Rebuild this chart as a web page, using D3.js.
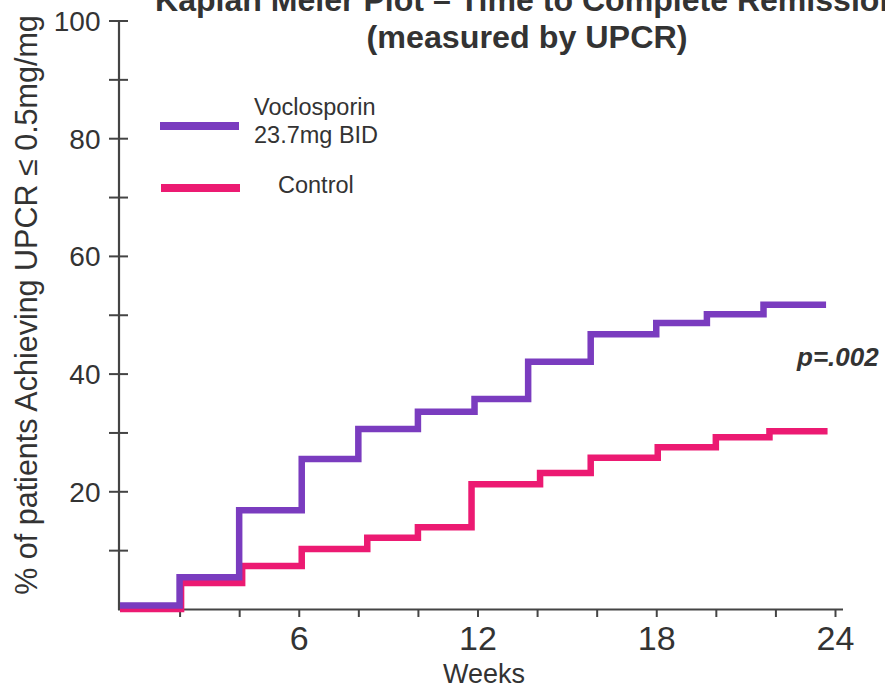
<!DOCTYPE html>
<html>
<head>
<meta charset="utf-8">
<script src="https://cdn.jsdelivr.net/npm/d3@7"></script>
<style>
  html, body { margin: 0; padding: 0; background: #fff; }
  svg { display: block; }
  text { font-family: "Liberation Sans", Arial, Helvetica, sans-serif; fill: #333; }
</style>
</head>
<body>
<svg id="chart" width="885" height="688"></svg>
<script>
// ---- Data ----
const titleLines = ["Kaplan Meier Plot – Time to Complete Remission", "(measured by UPCR)"];
const xLabel = "Weeks";
const yLabel = "% of patients Achieving UPCR ≤ 0.5mg/mg";
const xTickValues = [2, 4, 6, 8, 10, 12, 14, 16, 18, 20, 22, 24];
const xTickLabels = [6, 12, 18, 24];
const yTickValues = [10, 20, 30, 40, 50, 60, 70, 80, 90, 100];
const yTickLabels = [20, 40, 60, 80, 100];

const seriesNames = ["Voclosporin\n23.7mg BID", "Control"];
// step times (weeks) and the level reached at each time
const vocTimes  = [0, 2.0, 4.0, 6.1, 8.0, 10.0, 11.9, 13.7, 15.8, 18.0, 19.7, 21.6, 23.7];
const vocValues = [0.6, 5.4, 16.8, 25.5, 30.6, 33.5, 35.7, 42.0, 46.7, 48.6, 50.1, 51.7, 51.7];
const ctlTimes  = [0, 2.05, 4.1, 6.1, 8.3, 10.0, 11.8, 14.1, 15.8, 18.05, 20.0, 21.8, 23.75];
const ctlValues = [0, 4.4, 7.3, 10.2, 12.1, 13.9, 21.2, 23.1, 25.7, 27.5, 29.2, 30.2, 30.2];
const pValue = "p=.002";

const colors = ["#7a3cbf", "#ec1a72"];

// ---- Layout ----
const svg = d3.select("#chart");
const x = d3.scaleLinear().domain([0, 24]).range([120, 835]);
const y = d3.scaleLinear().domain([0, 100]).range([609, 20.5]);

// Title (clipped at top like the reference)
svg.append("text").attr("x", 527).attr("y", 11).attr("text-anchor", "middle")
  .attr("textLength", 744).attr("lengthAdjust", "spacingAndGlyphs")
  .style("font-weight", "bold").style("font-size", "31px").text(titleLines[0]);
svg.append("text").attr("x", 527).attr("y", 48).attr("text-anchor", "middle")
  .attr("textLength", 321).attr("lengthAdjust", "spacingAndGlyphs")
  .style("font-weight", "bold").style("font-size", "31px").text(titleLines[1]);

// X axis
const xAxis = d3.axisBottom(x).tickValues(xTickValues).tickSize(8).tickSizeOuter(0).tickFormat("");
const gx = svg.append("g").attr("transform", `translate(0,${y(0)})`).call(xAxis);
gx.select(".domain").attr("d", `M${x(0) - 2},0.5H843`).attr("stroke", "#444").attr("stroke-width", 2.2);
gx.selectAll(".tick line").attr("stroke", "#444").attr("stroke-width", 2);
gx.selectAll(".tick").filter(d => xTickLabels.includes(d)).append("text")
  .attr("y", 41).attr("text-anchor", "middle").style("font-size", "34px")
  .attr("fill", "#333").text(d => d);

// Y axis
const yAxis = d3.axisLeft(y).tickValues(yTickValues).tickSize(10).tickSizeOuter(0).tickFormat("");
const gy = svg.append("g").attr("transform", `translate(${x(0) - 1.5},0)`).call(yAxis);
gy.select(".domain").attr("d", `M0.5,${y(100)}V${y(0) + 1}`).attr("stroke", "#444").attr("stroke-width", 2.2);
gy.selectAll(".tick line").attr("x1", -9.5).attr("x2", 9.5).attr("stroke", "#444").attr("stroke-width", 2);
gy.selectAll(".tick").filter(d => yTickLabels.includes(d)).append("text")
  .attr("x", -18).attr("y", 10).attr("text-anchor", "end").style("font-size", "28px")
  .attr("fill", "#333").text(d => d);

// Axis titles
svg.append("text").attr("x", 484).attr("y", 683).attr("text-anchor", "middle")
  .style("font-size", "27px").text(xLabel);
svg.append("text").attr("transform", "translate(37,305) rotate(-90)").attr("text-anchor", "middle")
  .style("font-size", "30.5px").text(yLabel);

// Lines
const line = d3.line().x(d => x(d[0])).y(d => y(d[1])).curve(d3.curveStepAfter);
const vocData = vocTimes.map((t, i) => [t, vocValues[i]]);
const ctlData = ctlTimes.map((t, i) => [t, ctlValues[i]]);
[ctlData, vocData].forEach((data, k) => {
  svg.append("path").datum(data).attr("d", line)
    .attr("fill", "none").attr("stroke", k === 0 ? colors[1] : colors[0])
    .attr("stroke-width", 6.5).attr("stroke-linejoin", "miter");
});

// Legend
const legend = svg.append("g");
legend.append("line").attr("x1", 160).attr("x2", 239).attr("y1", 126).attr("y2", 126)
  .attr("stroke", colors[0]).attr("stroke-width", 8);
legend.append("line").attr("x1", 161).attr("x2", 240).attr("y1", 188).attr("y2", 188)
  .attr("stroke", colors[1]).attr("stroke-width", 8);
const vocLines = seriesNames[0].split("\n");
legend.append("text").attr("x", 254).attr("y", 115).style("font-size", "23.5px").text(vocLines[0]);
legend.append("text").attr("x", 254).attr("y", 143).style("font-size", "23.5px").text(vocLines[1]);
legend.append("text").attr("x", 278).attr("y", 193).style("font-size", "23.5px").text(seriesNames[1]);

// p-value
svg.append("text").attr("x", 797).attr("y", 366).style("font-size", "26px")
  .style("font-weight", "bold").style("font-style", "italic").text(pValue);
</script>
</body>
</html>
